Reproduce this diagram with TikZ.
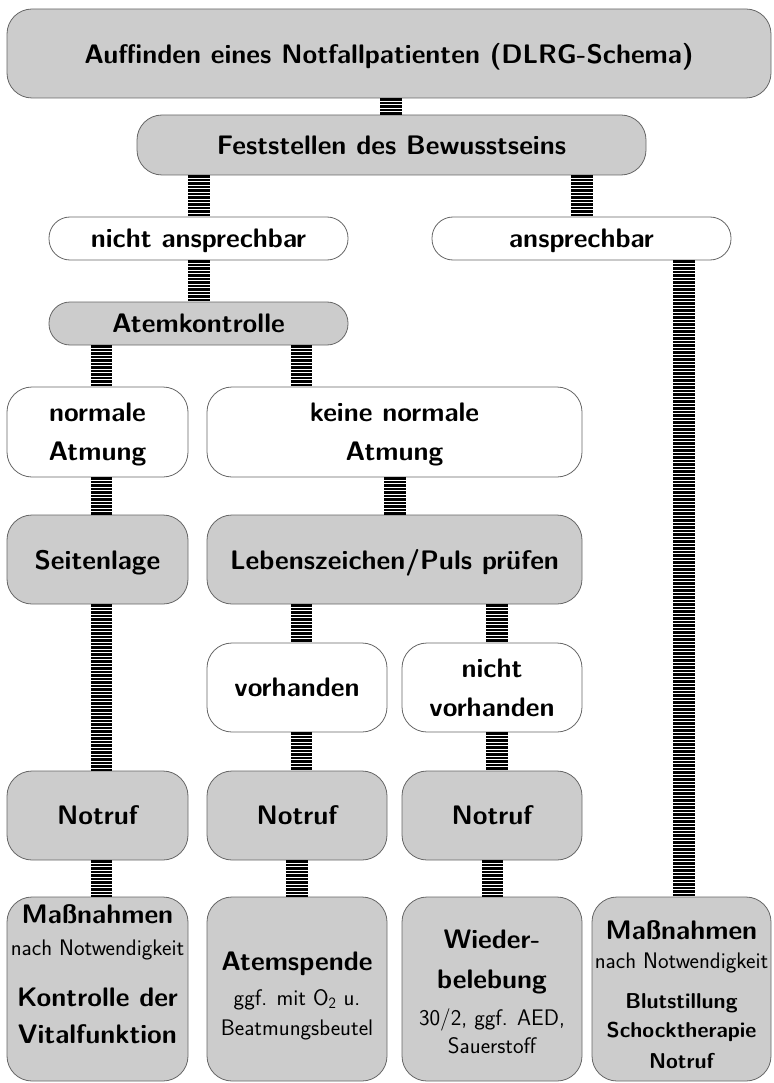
\documentclass[tikz,border=0pt]{standalone}
\usepackage{tikz}
\begin{document}
\begin{tikzpicture}[x=1pt,y=-1pt,
  boxbase/.style={draw=black!60, line width=0.8pt, inner sep=0pt, text depth=0pt,
    align=center, rounded corners=25pt,
    font=\sffamily\bfseries\fontsize{26.8pt}{39pt}\selectfont},
  graybox/.style={boxbase, fill=black!20},
  whitebox/.style={boxbase, fill=white},
  pill/.style={rounded corners=21pt},
  conn/.style={line width=21.5pt, dash pattern=on 2.2pt off 1.3pt, black},
  bigb/.style={anchor=base, inner sep=0pt, font=\sffamily\bfseries\fontsize{26.8pt}{39pt}\selectfont},
  medb/.style={anchor=base, inner sep=0pt, font=\sffamily\bfseries\fontsize{21.5pt}{30pt}\selectfont},
  smr/.style={anchor=base, inner sep=0pt, font=\sffamily\fontsize{22.5pt}{28pt}\selectfont}
]
\useasboundingbox (0,0) rectangle (773,1083);
\newcommand\joinboxes[3]{\draw[conn] ([xshift=#3]#1.south) -- ([xshift=#3]#1.south |- #2.north);}

\path (389,53.5) node[graybox, minimum width=764, minimum height=89] (top) {Auffinden eines Notfallpatienten (DLRG-Schema)};
\path (391.5,145) node[graybox, minimum width=509, minimum height=60] (fest) {Feststellen des Bewusstseins};
\path (198.5,238.5) node[whitebox, pill, minimum width=299, minimum height=43] (na) {nicht ansprechbar};
\path (581.5,238.5) node[whitebox, pill, minimum width=299, minimum height=43] (ans) {ansprechbar};
\path (198.5,323.5) node[graybox, pill, minimum width=299, minimum height=43] (atem) {Atemkontrolle};
\path (97.5,432) node[whitebox, minimum width=181, minimum height=90] (norm) {normale\\Atmung};
\path (394.5,432) node[whitebox, minimum width=375, minimum height=90] (keine) {keine normale\\Atmung};
\path (97.5,559.5) node[graybox, minimum width=181, minimum height=89] (seit) {Seitenlage};
\path (394.5,559.5) node[graybox, minimum width=375, minimum height=89] (leb) {Lebenszeichen/Puls prüfen};
\path (297,687.5) node[whitebox, minimum width=180, minimum height=89] (vorh) {vorhanden};
\path (492,687.5) node[whitebox, minimum width=180, minimum height=89] (nvorh) {nicht\\vorhanden};
\path (97.5,815.5) node[graybox, minimum width=181, minimum height=89] (not1) {Notruf};
\path (297,815.5) node[graybox, minimum width=180, minimum height=89] (not2) {Notruf};
\path (492,815.5) node[graybox, minimum width=180, minimum height=89] (not3) {Notruf};
\path (97.5,989) node[graybox, minimum width=181, minimum height=184] (b1) {};
\path (297,989) node[graybox, minimum width=180, minimum height=184] (b2) {};
\path (492,989) node[graybox, minimum width=180, minimum height=184] (b3) {};
\path (681.5,989) node[graybox, minimum width=179, minimum height=184] (b4) {};

\joinboxes{top}{fest}{2pt}
\joinboxes{fest}{na}{-192.5pt}
\joinboxes{fest}{ans}{190.5pt}
\joinboxes{na}{atem}{0.5pt}
\joinboxes{atem}{norm}{-97pt}
\joinboxes{atem}{keine}{103pt}
\joinboxes{norm}{seit}{4pt}
\joinboxes{keine}{leb}{0.5pt}
\joinboxes{seit}{not1}{4pt}
\joinboxes{leb}{vorh}{-93pt}
\joinboxes{leb}{nvorh}{102.5pt}
\joinboxes{vorh}{not2}{4.5pt}
\joinboxes{nvorh}{not3}{5pt}
\joinboxes{not1}{b1}{4pt}
\joinboxes{not2}{b2}{0pt}
\joinboxes{not3}{b3}{0.5pt}
\joinboxes{ans}{b4}{102.5pt}

\node[bigb] at (97.5,923) {Maßnahmen};
\node[smr] at (97.5,955) {nach Notwendigkeit};
\node[bigb] at (97.5,1006) {Kontrolle der};
\node[bigb] at (97.5,1043) {Vitalfunktion};

\node[bigb] at (297,970) {Atemspende};
\node[smr] at (297,1005) {ggf. mit O\textsubscript{2} u.};
\node[smr] at (297,1035) {Beatmungsbeutel};

\node[bigb] at (492,948) {Wieder-};
\node[bigb] at (492,988) {belebung};
\node[smr] at (492,1025) {30/2, ggf. AED,};
\node[smr] at (492,1053) {Sauerstoff};

\node[bigb] at (681.5,939) {Maßnahmen};
\node[smr] at (681.5,968) {nach Notwendigkeit};
\node[medb] at (681.5,1008) {Blutstillung};
\node[medb] at (681.5,1037) {Schocktherapie};
\node[medb] at (681.5,1068) {Notruf};
\end{tikzpicture}
\end{document}
